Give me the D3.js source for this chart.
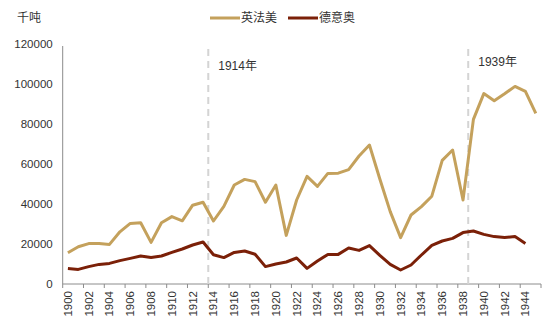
<!DOCTYPE html>
<html>
<head>
<meta charset="utf-8">
<script src="https://cdn.jsdelivr.net/npm/d3@7/dist/d3.min.js"></script>
<style>
  html, body { margin: 0; padding: 0; background: #fff; }
  svg text { font-family: "Liberation Sans", Arial, "Noto Sans CJK SC", sans-serif; fill: #333; }
</style>
</head>
<body>
<svg id="chart" width="550" height="324"></svg>
<script>
// Years 1900–1945
const years = d3.range(1900, 1946);

// 英法美 (thousand tonnes)
const alliedValues = [
  15600, 18600, 20200, 20200, 19800, 26100, 30300, 30600, 20800, 30600,
  33700, 31600, 39400, 40900, 31500, 38800, 49500, 52300, 51200, 40900,
  49500, 24300, 42000, 53800, 48800, 55300, 55400, 57200, 64000, 69500,
  52500, 36200, 23200, 34500, 38700, 43900, 61800, 67000, 42000, 82300,
  95200, 91600, 95100, 98800, 96300, 85300
];

// 德意奥 (thousand tonnes); no 1945 value
const axisValues = [
  7700, 7300, 8700, 9800, 10300, 11700, 12800, 14000, 13200, 14000,
  15800, 17500, 19500, 21000, 14600, 13200, 15800, 16500, 14900, 8700,
  10000, 11000, 13000, 7800, 11500, 14800, 14800, 18000, 16800, 19200,
  14300, 9800, 7000, 9500, 14500, 19300, 21500, 22800, 25700, 26500,
  24800, 23700, 23300, 23700, 20300, null
];

const yTicks = [0, 20000, 40000, 60000, 80000, 100000, 120000];
const xTickLabels = years.filter(y => y % 2 === 0 && y <= 1944);
const markerYears = [1914, 1939];
const seriesNames = ["英法美", "德意奥"];
const colors = ["#c4a15c", "#7b2008"];

const svg = d3.select("#chart");
const margin = { left: 62.7, right: 9, top: 44, bottom: 40 };
const W = 550, H = 324;

const x = d3.scaleBand().domain(years).range([margin.left, W - margin.right]).padding(0);
const y = d3.scaleLinear().domain([0, 120000]).range([H - margin.bottom, margin.top]);
const cx = yr => x(yr) + x.bandwidth() / 2;

// unit label
svg.append("text").attr("x", 17).attr("y", 22).attr("font-size", 12).text("千吨");

// y axis
const yAxis = svg.append("g").attr("transform", `translate(${margin.left},0)`)
  .call(d3.axisLeft(y).tickValues(yTicks).tickSize(0).tickPadding(10).tickFormat(d3.format("d")));
yAxis.select(".domain").attr("stroke", "#8c8c8c").attr("stroke-width", 1)
  .attr("d", `M0,${y(0)}V${y(0) - 238}`);
yAxis.selectAll("text").attr("font-size", 11.5).attr("fill", "#333");

// x axis: ticks between categories every two years, labels rotated
const xAxisG = svg.append("g").attr("transform", `translate(0,${y(0)})`);
xAxisG.append("line").attr("x1", margin.left).attr("x2", W - margin.right)
  .attr("stroke", "#8c8c8c").attr("stroke-width", 1);
const tickYears = years.filter(yr => yr % 2 === 0).concat([1946]);
xAxisG.selectAll("line.tick").data(tickYears).enter().append("line")
  .attr("class", "tick")
  .attr("x1", d => d === 1946 ? W - margin.right : x(d))
  .attr("x2", d => d === 1946 ? W - margin.right : x(d))
  .attr("y1", 0).attr("y2", 4)
  .attr("stroke", "#8c8c8c").attr("stroke-width", 1);
xAxisG.selectAll("text.lbl").data(xTickLabels).enter().append("text")
  .attr("class", "lbl")
  .attr("font-size", 11.5)
  .attr("text-anchor", "end")
  .attr("dominant-baseline", "central")
  .attr("transform", d => `translate(${cx(d)},7) rotate(-90)`)
  .text(d => d);

// vertical dashed markers
markerYears.forEach(yr => {
  svg.append("line")
    .attr("x1", x(yr)).attr("x2", x(yr))
    .attr("y1", 49).attr("y2", y(0))
    .attr("stroke", "#d4d4d4").attr("stroke-width", 2)
    .attr("stroke-dasharray", "7,5");
});
svg.append("text").attr("x", x(1914) + 10).attr("y", 70).attr("font-size", 12).text("1914年");
svg.append("text").attr("x", x(1939) + 10).attr("y", 66).attr("font-size", 12).text("1939年");

// series lines
const line = d3.line()
  .defined(d => d[1] != null)
  .x(d => cx(d[0]))
  .y(d => y(d[1]));

[alliedValues, axisValues].forEach((vals, i) => {
  svg.append("path")
    .datum(years.map((yr, j) => [yr, vals[j]]))
    .attr("fill", "none")
    .attr("stroke", colors[i])
    .attr("stroke-width", 3)
    .attr("stroke-linejoin", "round")
    .attr("d", line);
});

// legend
const legendX = [210, 288];
seriesNames.forEach((name, i) => {
  const g = svg.append("g").attr("transform", `translate(${legendX[i]},18)`);
  g.append("line").attr("x1", 0).attr("x2", 30).attr("stroke", colors[i]).attr("stroke-width", 3);
  g.append("text").attr("x", 31).attr("y", 0).attr("dominant-baseline", "central")
    .attr("font-size", 12).text(name);
});
</script>
</body>
</html>
